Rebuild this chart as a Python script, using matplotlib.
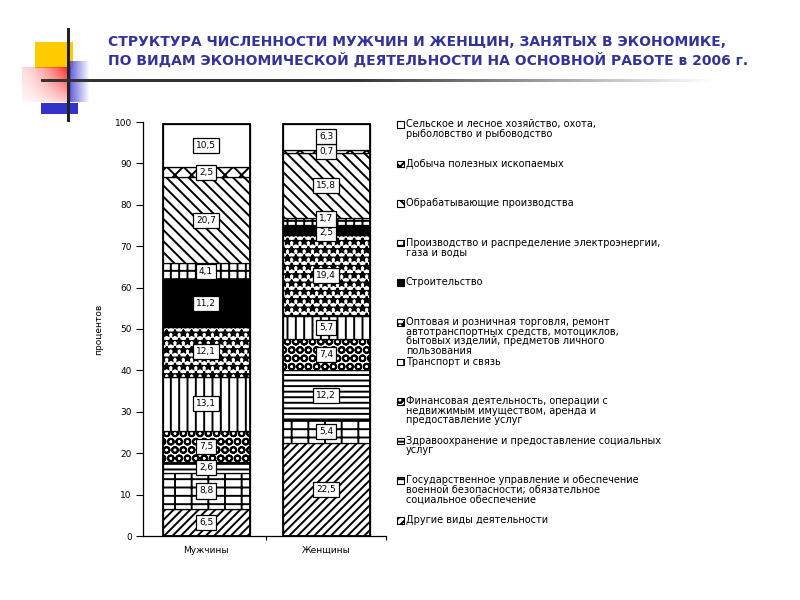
import numpy as np
import matplotlib
matplotlib.use("Agg")
import matplotlib.pyplot as plt
from matplotlib.patches import Rectangle

TITLE_LINES = [
    "СТРУКТУРА ЧИСЛЕННОСТИ МУЖЧИН И ЖЕНЩИН, ЗАНЯТЫХ В ЭКОНОМИКЕ,",
    "ПО ВИДАМ ЭКОНОМИЧЕСКОЙ ДЕЯТЕЛЬНОСТИ НА ОСНОВНОЙ РАБОТЕ в 2006 г.",
]
Y_LABEL = "процентов"
categories = ["Мужчины", "Женщины"]

# legend order (top of the bar first)
sectors = [
    "Сельское и лесное хозяйство, охота,\nрыболовство и рыбоводство",
    "Добыча полезных ископаемых",
    "Обрабатывающие производства",
    "Производство и распределение электроэнергии,\nгаза и воды",
    "Строительство",
    "Оптовая и розничная торговля, ремонт\nавтотранспортных средств, мотоциклов,\n"
    "бытовых изделий, предметов личного\nпользования",
    "Транспорт и связь",
    "Финансовая деятельность, операции с\nнедвижимым имуществом, аренда и\nпредоставление услуг",
    "Здравоохранение и предоставление социальных\nуслуг",
    "Государственное управление и обеспечение\nвоенной безопасности; обязательное\nсоциальное обеспечение",
    "Другие виды деятельности",
]
men = [10.5, 2.5, 20.7, 4.1, 11.2, 12.1, 13.1, 7.5, 2.6, 8.8, 6.5]
women = [6.3, 0.7, 15.8, 1.7, 2.5, 19.4, 5.7, 7.4, 12.2, 5.4, 22.5]
y_ticks = list(range(0, 101, 10))

hatches = ["", "xx", "\\\\\\", "++", "", "**", "||", "OO", "---", "+-", "////"]
faces = ["white"] * 4 + ["black"] + ["white"] * 6

TITLE_COLOR = "#333399"
plt.rcParams["hatch.linewidth"] = 1.4
plt.rcParams["font.family"] = ["DejaVu Sans"]

fig = plt.figure(figsize=(8, 6), dpi=100)
fig.patch.set_facecolor("white")

ax = fig.add_axes([143 / 800, 1 - 536 / 600, 243 / 800, 414 / 600])
ax.patch.set_visible(False)
bar_width = 0.725
label_gap = 3.4


def fmt(v):
    return f"{v:.1f}".replace(".", ",")


for xi, values in enumerate([men, women]):
    bottom = 0.0
    centers = []
    for i in reversed(range(len(values))):
        v = values[i]
        ax.bar(xi, v, bottom=bottom, width=bar_width, color=faces[i],
               hatch=hatches[i], edgecolor="black", linewidth=0.9)
        centers.append([bottom + v / 2, v])
        bottom += v
    # outer frame of the column
    ax.bar(xi, bottom, width=bar_width, fill=False, edgecolor="black", linewidth=1.3)
    # spread the labels of thin neighbouring segments
    ys = [c[0] for c in centers]
    for _ in range(10):
        for k in range(1, len(ys)):
            d = ys[k] - ys[k - 1]
            if d < label_gap:
                shift = (label_gap - d) / 2
                ys[k - 1] -= shift
                ys[k] += shift
    for (c, v), y in zip(centers, ys):
        ax.text(xi, y, fmt(v), ha="center", va="center", fontsize=6.5,
                bbox=dict(boxstyle="square,pad=0.35", fc="white", ec="black", lw=0.9))

ax.set_xlim(-0.525, 1.5)
ax.set_ylim(0, 100)
ax.set_yticks(y_ticks)
ax.tick_params(axis="y", labelsize=6.5, length=5, width=0.8, pad=3)
ax.set_xticks([0, 1])
ax.set_xticklabels(categories, fontsize=6.5)
ax.set_xticks([0.5, 1.5], minor=True)
ax.tick_params(axis="x", which="major", length=0, pad=7)
ax.tick_params(axis="x", which="minor", length=3, width=0.8)
for side in ["top", "right"]:
    ax.spines[side].set_visible(False)
ax.spines["left"].set_linewidth(0.9)
ax.spines["bottom"].set_linewidth(0.9)
ax.set_ylabel(Y_LABEL, fontsize=6.5, labelpad=8)

# overlay for decoration, title and legend (pixel coordinates)
ov = fig.add_axes([0, 0, 1, 1], zorder=5)
ov.set_xlim(0, 800)
ov.set_ylim(600, 0)
ov.axis("off")
ov.patch.set_visible(False)

ov.add_patch(Rectangle((35, 42), 38, 26, color="#ffcc00", lw=0))
h, w = 35, 49
yy, xx = np.mgrid[0:h, 0:w]
red = np.zeros((h, w, 4))
red[..., 0] = 1.0
red[..., 1] = 0.1
red[..., 2] = 0.1
red[..., 3] = (0.15 + 0.85 * (xx / (w - 1)) ** 1.5) * (1 - 0.75 * yy / (h - 1))
ov.imshow(red, extent=(22, 71, 102, 67), aspect="auto", zorder=2)
h, w = 41, 23
yy, xx = np.mgrid[0:h, 0:w]
blue = np.zeros((h, w, 4))
blue[..., 0] = 0.3
blue[..., 1] = 0.3
blue[..., 2] = 0.85
blue[..., 3] = 1 - xx / (w - 1)
ov.imshow(blue, extent=(67, 90, 102, 61), aspect="auto", zorder=3)
ov.add_patch(Rectangle((41, 103), 37, 11, color="#3333cc", lw=0, zorder=3))
ov.plot([68, 68], [29, 120], color="#222222", lw=2.2, zorder=4)
line = np.zeros((1, 700, 4))
xs = np.linspace(41, 714, 700)
line[..., 0:3] = 0.2
line[0, :, 3] = np.clip((714 - xs) / 360, 0, 1)
ov.imshow(line, extent=(41, 714, 82.5, 79.5), aspect="auto", zorder=4)
ov.set_xlim(0, 800)
ov.set_ylim(600, 0)

ov.text(108, 42, TITLE_LINES[0], color=TITLE_COLOR, fontsize=10, fontweight="bold",
        ha="left", va="center")
ov.text(108, 60, TITLE_LINES[1], color=TITLE_COLOR, fontsize=10, fontweight="bold",
        ha="left", va="center")

# legend
for i, label in enumerate(sectors):
    yc = 124 + i * 39.6
    ov.add_patch(Rectangle((397, yc - 3), 6.5, 6.5, facecolor=faces[i], hatch=hatches[i],
                           edgecolor="black", lw=0.8))
    ov.text(406, yc - 5, label, fontsize=7, ha="left", va="top", linespacing=0.95)

fig.savefig("out.png", dpi=100, facecolor="white")
